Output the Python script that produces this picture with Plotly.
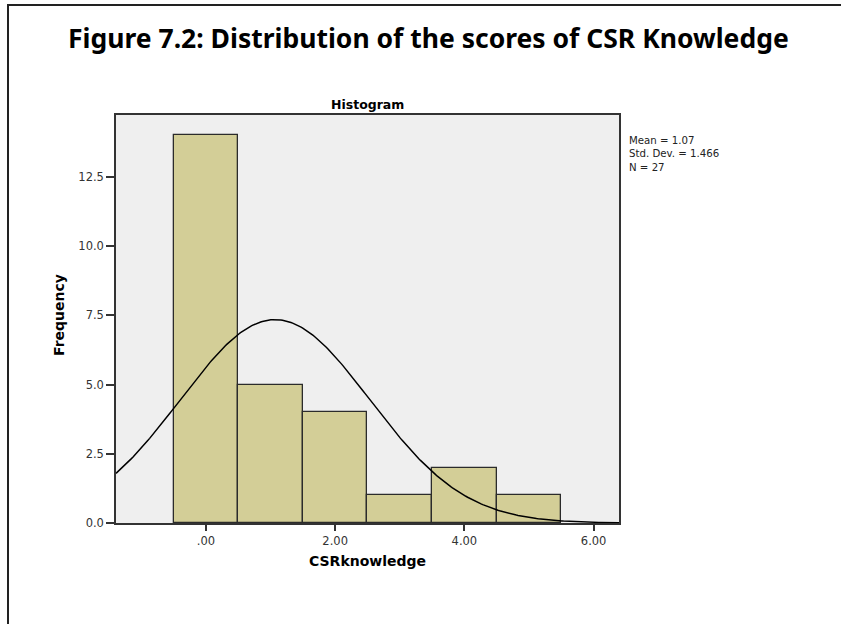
import numpy as np
import plotly.graph_objects as go

# Data
bin_centers = [0, 1, 2, 3, 4, 5]
frequencies = [14, 5, 4, 1, 2, 1]
mean_val = 1.07
std_val = 1.466
n_val = 27
x_tickvals = [0, 2, 4, 6]
x_ticktext = [".00", "2.00", "4.00", "6.00"]
y_tickvals = [0, 2.5, 5, 7.5, 10, 12.5]
y_ticktext = ["0.0", "2.5", "5.0", "7.5", "10.0", "12.5"]
stat_lines = ["Mean = 1.07", "Std. Dev. = 1.466", "N = 27"]

W, H = 841, 624
L, R, T, B = 116, 619, 115, 523
X_RANGE = [-1.392, 6.393]
Y_RANGE = [0, 14.74]


def px(x):
    return (x - L) / (R - L)


def py(y):
    return (B - y) / (B - T)


# normal curve fitted from reported mean / sd / N (bin width 1)
xs = np.linspace(X_RANGE[0], X_RANGE[1], 300)
ys = n_val * 1.0 / (std_val * np.sqrt(2 * np.pi)) * np.exp(-0.5 * ((xs - mean_val) / std_val) ** 2)

fig = go.Figure()
fig.add_trace(go.Bar(
    x=bin_centers, y=frequencies, width=1,
    marker=dict(color="#D3CE97", line=dict(color="#2b2b2b", width=1.3)),
    hoverinfo="skip",
))
fig.add_trace(go.Scatter(
    x=xs, y=ys, mode="lines", line=dict(color="black", width=1.5),
    hoverinfo="skip",
))

tick_font = dict(family="DejaVu Sans", size=11.5, color="#333")
fig.update_layout(
    width=W, height=H,
    margin=dict(l=L, r=W - R, t=T, b=H - B),
    paper_bgcolor="white", plot_bgcolor="#EFEFEF",
    showlegend=False, bargap=0,
    xaxis=dict(range=X_RANGE, tickvals=x_tickvals, ticktext=x_ticktext,
               ticks="outside", ticklen=6, tickwidth=1.5, tickcolor="#333",
               showline=True, mirror=True, linecolor="#333", linewidth=1.5,
               showgrid=False, zeroline=False, tickfont=tick_font),
    yaxis=dict(range=Y_RANGE, tickvals=y_tickvals, ticktext=y_ticktext,
               ticks="outside", ticklen=8, tickwidth=1.5, tickcolor="#333",
               showline=True, mirror=True, linecolor="#333", linewidth=1.5,
               showgrid=False, zeroline=False, tickfont=tick_font),
)

ann = [
    dict(text="<b>Figure 7.2: Distribution of the scores of CSR Knowledge</b>",
         x=px(428), y=py(38), font=dict(family="Noto Sans", size=26.5, color="black"),
         xanchor="center", yanchor="middle"),
    dict(text="<b>Histogram</b>", x=px(367.5), y=py(104),
         font=dict(family="DejaVu Sans", size=12.5, color="black"),
         xanchor="center", yanchor="middle"),
    dict(text="<b>CSRknowledge</b>", x=px(367.5), y=py(561),
         font=dict(family="DejaVu Sans", size=14, color="black"),
         xanchor="center", yanchor="middle"),
    dict(text="<b>Frequency</b>", x=px(59), y=py(315), textangle=-90,
         font=dict(family="DejaVu Sans", size=14, color="black"),
         xanchor="center", yanchor="middle"),
    dict(text="<br>".join(stat_lines), x=px(627), y=py(133), align="left",
         font=dict(family="DejaVu Sans", size=10.2, color="#222"),
         xanchor="left", yanchor="top"),
]
for a in ann:
    a.update(xref="paper", yref="paper", showarrow=False)
fig.update_layout(annotations=ann)

fig.update_layout(shapes=[
    dict(type="line", xref="paper", yref="paper", x0=px(7), x1=px(842), y0=py(5), y1=py(5),
         line=dict(color="#222", width=2)),
    dict(type="line", xref="paper", yref="paper", x0=px(8), x1=px(8), y0=py(4), y1=py(625),
         line=dict(color="#222", width=2)),
])

fig.write_html(
    "out.html",
    config={"displayModeBar": False},
    post_script="document.body.style.margin='0';document.body.style.overflow='hidden';",
)
